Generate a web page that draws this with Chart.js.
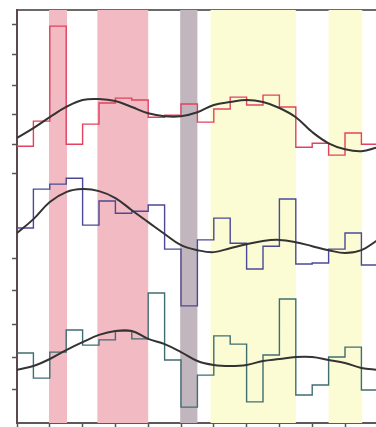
<!DOCTYPE html>
<html>
<head>
<meta charset="utf-8">
<script src="https://cdn.jsdelivr.net/npm/chart.js@4.4.1/dist/chart.umd.min.js"></script>
<style>
  body { margin: 0; background: #fff; overflow: hidden; }
</style>
</head>
<body>
<canvas id="myChart" width="376" height="427"></canvas>
<script>
// bins along x (one value per bin), ticks every 2 bins
var xTicks = [0, 2, 4, 6, 8, 10, 12, 14, 16, 18, 20];
var yTicks = [1.03, 2.0, 3.0, 4.03, 5.0, 7.55, 8.45, 9.36, 10.24, 11.18, 12.09];

// step series (top = red, middle = blue, bottom = green)
var redSteps   = [8.39, 9.15, 12.03, 8.45, 9.06, 9.70, 9.85, 9.79, 9.27, 9.33, 9.67, 9.12, 9.52, 9.88, 9.64, 9.94, 9.58, 8.36, 8.48, 8.12, 8.79, 8.45];
var blueSteps  = [5.91, 7.09, 7.24, 7.42, 6.00, 6.73, 6.36, 6.42, 6.61, 5.27, 3.55, 5.55, 6.21, 5.45, 4.67, 5.36, 6.79, 4.82, 4.85, 5.27, 5.76, 4.79];
var greenSteps = [2.12, 1.36, 2.15, 2.82, 2.36, 2.52, 2.79, 2.55, 3.94, 1.91, 0.48, 1.45, 2.64, 2.39, 0.64, 2.06, 3.76, 0.85, 1.15, 2.00, 2.30, 1.00];

// smooth fits, read at every bin edge
var redFit   = [8.64, 8.94, 9.27, 9.58, 9.79, 9.82, 9.76, 9.58, 9.39, 9.30, 9.30, 9.42, 9.64, 9.73, 9.79, 9.73, 9.55, 9.27, 8.82, 8.48, 8.30, 8.24, 8.36];
var blueFit  = [5.76, 6.18, 6.70, 7.00, 7.09, 7.03, 6.82, 6.45, 6.09, 5.73, 5.39, 5.24, 5.18, 5.30, 5.42, 5.52, 5.55, 5.48, 5.36, 5.24, 5.15, 5.24, 5.55];
var greenFit = [1.61, 1.73, 1.94, 2.21, 2.45, 2.67, 2.79, 2.79, 2.55, 2.39, 2.15, 1.88, 1.76, 1.73, 1.76, 1.88, 1.94, 2.00, 2.00, 1.91, 1.82, 1.67, 1.61];

// shaded periods [from, to] in bin units
var bandRanges = [[1.95, 3.05], [4.9, 8.0], [9.95, 11.0], [11.8, 17.0], [19.0, 21.05]];
var bandKinds  = ['red', 'red', 'gray', 'yellow', 'yellow'];

var bandColor = { red: '#f2bac2', gray: '#c2b6be', yellow: '#fcfcd4' };

function stepPoints(vals) {
  var pts = vals.map(function(v, i) { return { x: i, y: v }; });
  pts.push({ x: vals.length, y: vals[vals.length - 1] });
  return pts;
}
function fitPoints(vals) {
  return vals.map(function(v, i) { return { x: i, y: v }; });
}

var bandsPlugin = {
  id: 'bands',
  beforeDatasetsDraw: function(chart) {
    var ctx = chart.ctx, area = chart.chartArea, xs = chart.scales.x;
    ctx.save();
    bandRanges.forEach(function(r, i) {
      var x0 = xs.getPixelForValue(r[0]);
      var x1 = xs.getPixelForValue(r[1]);
      ctx.fillStyle = bandColor[bandKinds[i]];
      ctx.fillRect(x0, area.top, x1 - x0, area.bottom - area.top);
    });
    ctx.restore();
  }
};

function stepSet(vals, color) {
  return { data: stepPoints(vals), borderColor: color, borderWidth: 1.4, stepped: true, pointRadius: 0, fill: false, order: 2 };
}
function fitSet(vals) {
  return { data: fitPoints(vals), borderColor: '#333333', borderWidth: 2, tension: 0.4, pointRadius: 0, fill: false, order: 1 };
}

var ctx = document.getElementById('myChart').getContext('2d');
var chart = new Chart(ctx, {
  type: 'line',
  data: {
    datasets: [
      stepSet(redSteps, '#e2415f'),
      stepSet(blueSteps, '#4b4996'),
      stepSet(greenSteps, '#3f6e70'),
      fitSet(redFit),
      fitSet(blueFit),
      fitSet(greenFit)
    ]
  },
  options: {
    responsive: false,
    devicePixelRatio: 1,
    animation: false,
    layout: { padding: { left: 12, top: 10, right: 0, bottom: 0 } },
    plugins: { legend: { display: false }, tooltip: { enabled: false } },
    scales: {
      x: {
        type: 'linear', min: 0, max: 21.89,
        afterBuildTicks: function(axis) { axis.ticks = xTicks.map(function(v) { return { value: v }; }); },
        ticks: { display: false },
        grid: { drawOnChartArea: false, drawTicks: true, tickLength: 4, tickColor: '#555555', tickWidth: 1.5 },
        border: { display: true, color: '#5a5a5a', width: 2 }
      },
      xTop: {
        type: 'linear', position: 'top', min: 0, max: 21.89,
        ticks: { display: false },
        grid: { display: false, drawTicks: false },
        border: { display: true, color: '#6a6a6a', width: 2 }
      },
      y: {
        type: 'linear', min: 0, max: 12.52,
        afterBuildTicks: function(axis) { axis.ticks = yTicks.map(function(v) { return { value: v }; }); },
        ticks: { display: false },
        grid: { drawOnChartArea: false, drawTicks: true, tickLength: 5, tickColor: '#555555', tickWidth: 1.5 },
        border: { display: true, color: '#5a4a50', width: 2 }
      }
    }
  },
  plugins: [bandsPlugin]
});
</script>
</body>
</html>
